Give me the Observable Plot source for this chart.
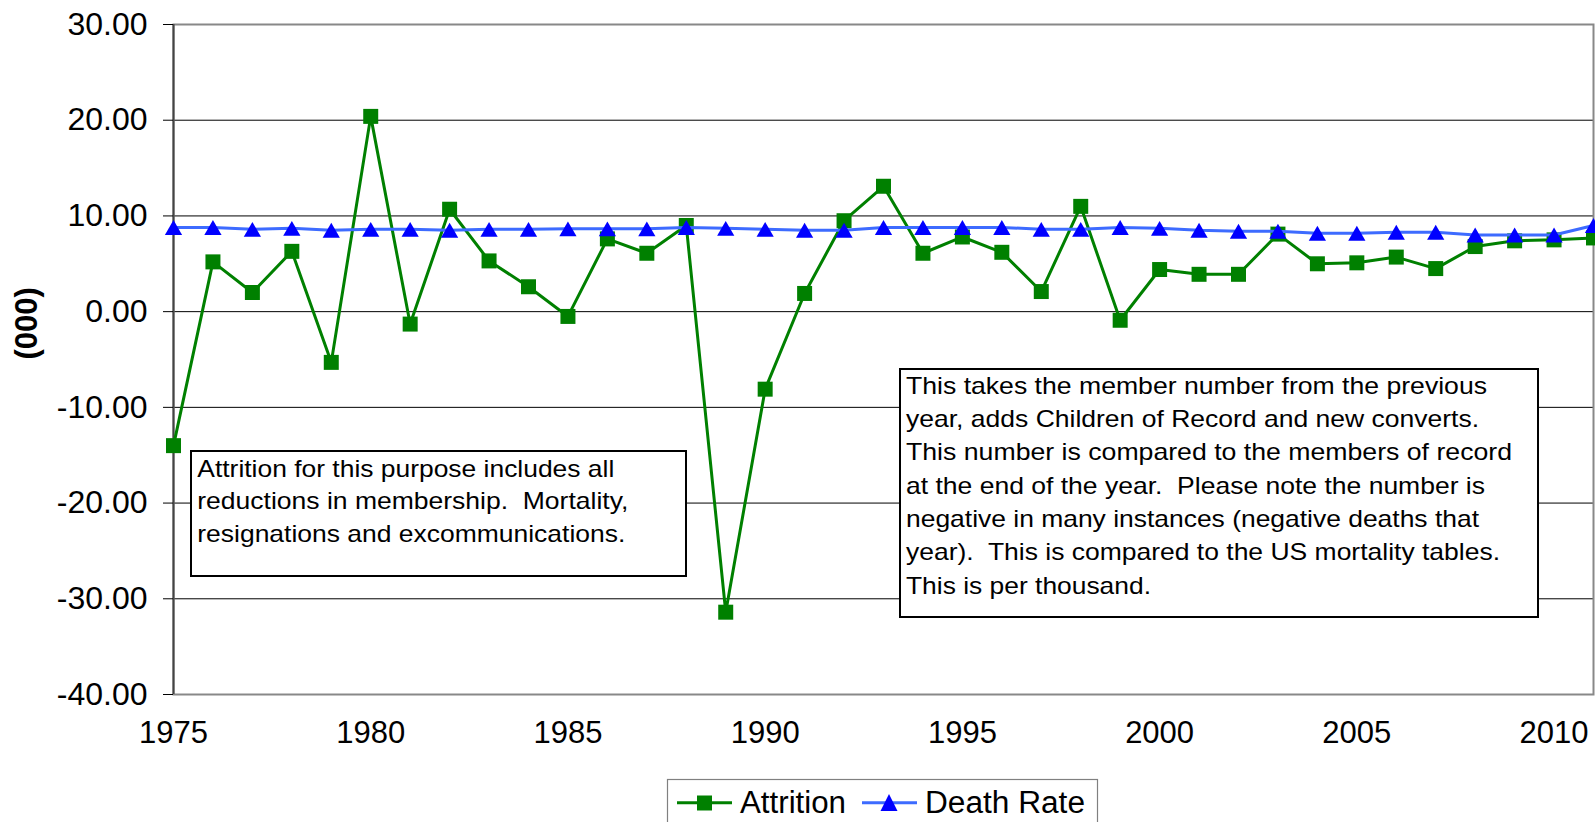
<!DOCTYPE html>
<html>
<head>
<meta charset="utf-8">
<script src="https://cdn.jsdelivr.net/npm/d3@7"></script>
<script src="https://cdn.jsdelivr.net/npm/@observablehq/plot@0.6"></script>
<style>
  html, body { margin: 0; padding: 0; background: #fff; overflow: hidden; }
  #wrap { position: relative; width: 1595px; height: 822px; }
  #wrap > svg { position: absolute; left: 0; top: 0; }
</style>
</head>
<body>
<div id="wrap"></div>
<script>
// ---- data ----
const years = [1975, 1976, 1977, 1978, 1979, 1980, 1981, 1982, 1983, 1984, 1985, 1986, 1987, 1988, 1989, 1990, 1991, 1992, 1993, 1994, 1995, 1996, 1997, 1998, 1999, 2000, 2001, 2002, 2003, 2004, 2005, 2006, 2007, 2008, 2009, 2010, 2011];
const attrition = [-14.0, 5.2, 2.0, 6.3, -5.3, 20.4, -1.3, 10.7, 5.3, 2.6, -0.5, 7.6, 6.1, 9.0, -31.4, -8.1, 1.9, 9.5, 13.1, 6.1, 7.8, 6.2, 2.1, 11.0, -0.9, 4.4, 3.9, 3.9, 8.1, 5.0, 5.1, 5.7, 4.5, 6.8, 7.4, 7.5, 7.7];
const deathRate = [8.8, 8.8, 8.6, 8.7, 8.5, 8.6, 8.6, 8.5, 8.6, 8.6, 8.65, 8.65, 8.65, 8.8, 8.7, 8.6, 8.5, 8.5, 8.8, 8.8, 8.8, 8.8, 8.6, 8.6, 8.8, 8.7, 8.5, 8.4, 8.4, 8.2, 8.2, 8.3, 8.3, 8.0, 8.0, 8.0, 9.0];
const xDomain = [1975, 2011];
const xTicks = [1975, 1980, 1985, 1990, 1995, 2000, 2005, 2010];
const yDomain = [-40, 30];
const yTicks = [-40, -30, -20, -10, 0, 10, 20, 30];
const seriesNames = ["Attrition", "Death Rate"];
const yLabel = "(000)";
const note1 = ["Attrition for this purpose includes all", "reductions in membership.  Mortality,", "resignations and excommunications."];
const note2 = ["This takes the member number from the previous", "year, adds Children of Record and new converts.", "This number is compared to the members of record", "at the end of the year.  Please note the number is", "negative in many instances (negative deaths that", "year).  This is compared to the US mortality tables.", "This is per thousand."];

const rows = years.map((y, i) => ({year: y, attrition: attrition[i], death: deathRate[i]}));

const GREEN = "#008000", BLUE_LINE = "#3D6BFF", BLUE = "#0000FF";
const FONT = "'Liberation Sans', Arial, Helvetica, sans-serif";

const chart = Plot.plot({
  width: 1595,
  height: 822,
  marginTop: 24,
  marginBottom: 128,
  marginLeft: 173,
  marginRight: 2,
  style: {fontFamily: FONT, fontSize: "31px", color: "#000", background: "#fff", overflow: "visible"},
  x: {type: "linear", domain: xDomain},
  y: {domain: yDomain},
  marks: [
    Plot.gridY(yTicks, {stroke: "#000", strokeOpacity: 1, strokeWidth: 1}),
    Plot.frame({stroke: "#888", strokeWidth: 2}),
    Plot.ruleX([xDomain[0]], {stroke: "#444", strokeWidth: 2}),
    Plot.axisY({ticks: yTicks, tickSize: 10, tickPadding: 16, tickFormat: d => d.toFixed(2), fontSize: 32, label: null, stroke: "#000"}),
    Plot.axisX({ticks: xTicks, tickSize: 0, tickPadding: 26, tickFormat: d => String(d), fontSize: 31, label: null}),
    Plot.text([yLabel], {frameAnchor: "left", dx: -146, rotate: -90, fontWeight: "bold", fontSize: 31, fill: "#000"}),
    Plot.line(rows, {x: "year", y: "attrition", stroke: GREEN, strokeWidth: 3}),
    Plot.dot(rows, {x: "year", y: "attrition", symbol: "square", r: 8.46, fill: GREEN, stroke: "none"}),
    Plot.line(rows, {x: "year", y: "death", stroke: BLUE_LINE, strokeWidth: 3}),
    Plot.dot(rows, {x: "year", y: "death", symbol: "triangle", r: 6.4, dy: 2.5, fill: BLUE, stroke: "none"})
  ]
});
document.getElementById("wrap").appendChild(chart);

// ---- overlay: text boxes and legend ----
const ov = d3.select("#wrap").append("svg")
  .attr("width", 1595).attr("height", 822)
  .style("font-family", FONT);

function box(x, y, w, h, lines, opts) {
  const g = ov.append("g");
  g.append("rect").attr("x", x).attr("y", y).attr("width", w).attr("height", h)
    .attr("fill", "#fff").attr("stroke", "#000").attr("stroke-width", 2);
  lines.forEach((t, i) => {
    g.append("text")
      .attr("x", opts.tx)
      .attr("y", opts.ty + i * opts.lh)
      .attr("font-size", opts.fs)
      .attr("textLength", opts.lens[i])
      .attr("lengthAdjust", "spacingAndGlyphs")
      .attr("fill", "#000")
      .style("white-space", "pre")
      .attr("xml:space", "preserve")
      .text(t);
  });
}

box(191, 451, 495, 125, note1, {tx: 197.3, ty: 476.7, lh: 32.5, fs: 24, lens: [417, 431, 428]});
box(900, 369, 638, 248, note2, {tx: 906, ty: 393.5, lh: 33.35, fs: 24,
  lens: [581, 573, 606, 579, 573, 594, 245]});

// legend
const lg = ov.append("g");
lg.append("rect").attr("x", 667.5).attr("y", 779.5).attr("width", 430).attr("height", 60)
  .attr("fill", "#fff").attr("stroke", "#808080").attr("stroke-width", 1.2);
lg.append("line").attr("x1", 677).attr("x2", 732).attr("y1", 802.7).attr("y2", 802.7)
  .attr("stroke", GREEN).attr("stroke-width", 3);
lg.append("rect").attr("x", 697).attr("y", 795.5).attr("width", 15).attr("height", 15).attr("fill", GREEN);
lg.append("text").attr("x", 740).attr("y", 813.3).attr("font-size", 31).attr("textLength", 106)
  .attr("lengthAdjust", "spacingAndGlyphs").text(seriesNames[0]);
lg.append("line").attr("x1", 862).attr("x2", 917).attr("y1", 802.7).attr("y2", 802.7)
  .attr("stroke", BLUE_LINE).attr("stroke-width", 3);
lg.append("path").attr("d", "M889,794 L897.5,811 L880.5,811 Z").attr("fill", BLUE);
lg.append("text").attr("x", 925).attr("y", 813.3).attr("font-size", 31).attr("textLength", 160)
  .attr("lengthAdjust", "spacingAndGlyphs").text(seriesNames[1]);
</script>
</body>
</html>
